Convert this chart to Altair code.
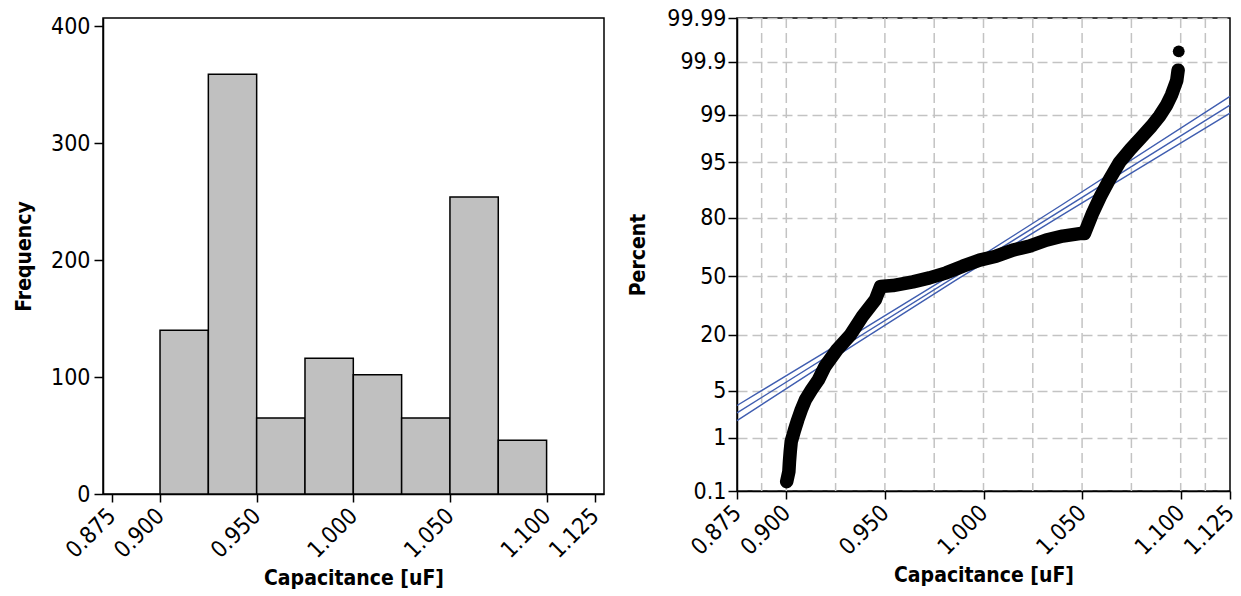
import altair as alt
import pandas as pd
from statistics import NormalDist

# ---------------- data ----------------
# histogram
bin_start = [0.900, 0.925, 0.950, 0.975, 1.000, 1.025, 1.050, 1.075]
bin_end = [0.925, 0.950, 0.975, 1.000, 1.025, 1.050, 1.075, 1.100]
counts = [140, 359, 65, 116, 102, 65, 254, 46]

x_ticks = [0.875, 0.900, 0.950, 1.000, 1.050, 1.100, 1.125]
freq_ticks = [0, 100, 200, 300, 400]

# normal probability plot
prob_x = [0.9002, 0.9013, 0.9016, 0.9020, 0.9025, 0.9042, 0.9058, 0.9076, 0.9097,
          0.9128, 0.9163, 0.9196, 0.9257, 0.9326, 0.9386, 0.9452, 0.9478, 0.9540,
          0.9642, 0.9726, 0.9811, 0.9895, 0.9980, 1.0064, 1.0149, 1.0233, 1.0318,
          1.0402, 1.0487, 1.0512, 1.0554, 1.0593, 1.0639, 1.0690, 1.0745, 1.0801,
          1.0852, 1.0892, 1.0928, 1.0953, 1.0968, 1.0980, 1.0987, 1.0990]
prob_pct = [0.156, 0.246, 0.383, 0.582, 0.868, 1.355, 1.94, 2.74, 3.78,
            5.12, 6.83, 9.73, 14.55, 20.05, 28.23, 36.88, 44.16, 44.7,
            46.85, 49.1, 52.0, 55.8, 59.2, 61.4, 64.7, 66.8, 69.9,
            71.9, 73.1, 73.1, 82.0, 87.5, 91.87, 94.97, 96.63, 97.74,
            98.47, 98.94, 99.31, 99.545, 99.68, 99.76, 99.85, 99.94]

fit_x = [0.875, 1.125]
fit_pct = [2.47, 99.315]
ci_x = [0.875, 0.930, 0.986, 1.040, 1.125]
ci_upper_pct = [3.15, 18.0, 52.4, 84.94, 99.52]
ci_lower_pct = [1.89, 14.35, 47.8, 81.16, 99.06]

pct_ticks = [0.1, 1, 5, 20, 50, 80, 95, 99, 99.9, 99.99]
grid_x = [0.8875, 0.900, 0.925, 0.950, 0.975, 1.000, 1.025, 1.050, 1.075, 1.100, 1.1125]

# ---------------- styling ----------------
FONT = "DejaVu Sans Condensed, DejaVu Sans"
LABEL_SIZE = 23
TITLE_SIZE = 21
GRID_COLOR = "#c3c3c3"
BLUE = "#3f5db0"

nd = NormalDist()
z_ticks = [nd.inv_cdf(p / 100.0) for p in pct_ticks]
z_dom = [z_ticks[0], z_ticks[-1]]

common_axis = dict(labelFont=FONT, labelFontSize=LABEL_SIZE, titleFont=FONT,
                   titleFontSize=TITLE_SIZE, titleFontWeight="bold",
                   labelColor="black", titleColor="black", domainColor="black",
                   tickColor="black", domainWidth=1.5, tickWidth=1.5,
                   labelOverlap=False, labelFlush=False)

def x_axis():
    return alt.Axis(values=x_ticks, format=".3f", labelAngle=-45, labelAlign="right",
                    labelBaseline="middle", labelPadding=10, tickSize=8, grid=False,
                    title="Capacitance [uF]", titlePadding=5, **common_axis)

# ---------------- left: histogram ----------------
hist_df = pd.DataFrame({"start": bin_start, "end": bin_end, "count": counts})
bars = alt.Chart(hist_df).mark_bar(fill="#c0c0c0", stroke="black", strokeWidth=1.5).encode(
    x=alt.X("start:Q", scale=alt.Scale(domain=[0.8705, 1.1297], nice=False, zero=False),
            axis=x_axis()),
    x2="end:Q",
    y=alt.Y("count:Q", scale=alt.Scale(domain=[0, 407.1], nice=False),
            axis=alt.Axis(values=freq_ticks, tickSize=9, labelPadding=4, grid=False,
                          title="Frequency", titlePadding=16, **common_axis)),
    y2=alt.datum(0),
)
left = bars.properties(width=501, height=476)

# ---------------- right: probability plot ----------------
xr = alt.X("x:Q", scale=alt.Scale(domain=[0.875, 1.125], nice=False, zero=False), axis=x_axis())
yr = alt.Y("z:Q", scale=alt.Scale(domain=z_dom, nice=False, zero=False),
           axis=alt.Axis(values=z_ticks,
                         labelExpr="format(cumulativeNormal(datum.value)*100, '.4~r')",
                         grid=True, gridColor=GRID_COLOR, gridDash=[10, 5], gridWidth=1.5,
                         tickSize=9, labelPadding=2, title="Percent", titlePadding=18,
                         **common_axis))

grid_df = pd.DataFrame({"x": grid_x})
vgrid = alt.Chart(grid_df).mark_rule(color=GRID_COLOR, strokeDash=[10, 5], strokeWidth=1.5).encode(x=xr)

fit_rows = []
for xv, pv in zip(fit_x, fit_pct):
    fit_rows.append({"x": xv, "pct": pv, "series": "fit"})
for xv, pv in zip(ci_x, ci_upper_pct):
    fit_rows.append({"x": xv, "pct": pv, "series": "upper"})
for xv, pv in zip(ci_x, ci_lower_pct):
    fit_rows.append({"x": xv, "pct": pv, "series": "lower"})
fit_df = pd.DataFrame(fit_rows)
fit_lines = alt.Chart(fit_df).transform_calculate(
    z="quantileNormal(datum.pct / 100)"
).mark_line(color=BLUE, strokeWidth=1.4).encode(x=xr, y=yr, detail="series:N")

prob_df = pd.DataFrame({"x": prob_x, "pct": prob_pct, "order": list(range(len(prob_x)))})
prob_base = alt.Chart(prob_df).transform_calculate(z="quantileNormal(datum.pct / 100)")
band = prob_base.transform_filter("datum.pct < 99.9").mark_line(
    color="black", strokeWidth=13.5, strokeCap="round", strokeJoin="round"
).encode(x=xr, y=yr, order="order:Q")
dots = prob_base.mark_circle(color="black", size=140, opacity=1).encode(x=xr, y=yr)

right = alt.layer(vgrid, fit_lines, band, dots).properties(width=493, height=473)

chart = alt.hconcat(left, right, spacing=22).properties(
    padding={"left": 12, "top": 6, "right": 1, "bottom": 0}
).configure_view(stroke="black", strokeWidth=1.5)

chart.save("out.html", embed_options={"renderer": "svg", "actions": False})
